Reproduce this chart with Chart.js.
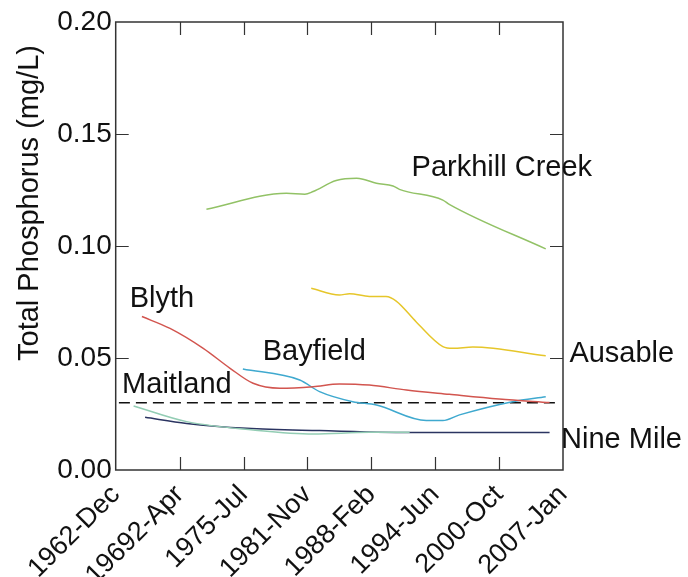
<!DOCTYPE html>
<html><head><meta charset="utf-8">
<script src="https://cdn.jsdelivr.net/npm/chart.js@4/dist/chart.umd.min.js"></script>
<style>html,body{margin:0;padding:0;background:#fff}</style>
</head><body>
<canvas id="c" width="688" height="577"></canvas>
<script>
const categories = ['1962-Dec','19692-Apr','1975-Jul','1981-Nov','1988-Feb','1994-Jun','2000-Oct','2007-Jan'];
const yTickValues = [0, 0.05, 0.10, 0.15, 0.20];
const yTitle = 'Total Phosphorus (mg/L)';
const threshold = 0.03;

const parkhillX = [1.42, 2.67, 2.96, 3.09, 3.45, 3.77, 3.87, 4.08, 4.34, 4.44, 5.12, 5.22, 6.73];
const parkhillY = [0.1164, 0.1235, 0.1231, 0.1243, 0.1292, 0.1302, 0.1298, 0.1280, 0.1268, 0.1253, 0.1205, 0.1186, 0.0987];
const ausableX = [3.06, 3.50, 3.66, 3.97, 4.23, 4.39, 4.70, 5.12, 5.28, 5.59, 6.73];
const ausableY = [0.0811, 0.0781, 0.0787, 0.0775, 0.0774, 0.0754, 0.0662, 0.0551, 0.0543, 0.0549, 0.0510];
const blythX = [0.41, 0.85, 1.37, 1.79, 2.15, 2.57, 3.09, 3.50, 3.97, 4.55, 5.22, 6.00, 6.79];
const blythY = [0.0685, 0.0632, 0.0543, 0.0454, 0.0387, 0.0365, 0.0372, 0.0384, 0.0379, 0.0357, 0.0338, 0.0317, 0.0301];
const bayfieldX = [1.99, 2.88, 3.19, 3.71, 4.08, 4.86, 5.12, 5.38, 6.21, 6.73];
const bayfieldY = [0.0451, 0.0402, 0.0350, 0.0305, 0.0290, 0.0221, 0.0221, 0.0246, 0.0305, 0.0327];
const maitlandX = [0.28, 1.11, 2.15, 3.09, 3.97, 4.6];
const maitlandY = [0.0286, 0.0216, 0.0179, 0.0161, 0.0168, 0.0168];
const nineMileX = [0.46, 1.11, 2.05, 3.19, 4.75, 6.79];
const nineMileY = [0.0235, 0.0208, 0.0186, 0.0176, 0.0167, 0.0167];

const seriesLabels = [
  {text:'Parkhill Creek', x:4.63, y:0.1348},
  {text:'Blyth', x:0.22, y:0.0763},
  {text:'Bayfield', x:2.30, y:0.0527},
  {text:'Maitland', x:0.10, y:0.0379},
  {text:'Ausable', x:7.10, y:0.0518},
  {text:'Nine Mile', x:6.97, y:0.0134}
];

const FONT = '"Liberation Sans", Arial, Helvetica, sans-serif';
function pts(xs, ys){ return xs.map((x,i)=>({x:x, y:ys[i]})); }
function line(data, color){
  return {data:data, borderColor:color, borderWidth:1.5, pointRadius:0, fill:false, cubicInterpolationMode:'monotone'};
}

const deco = {
  id:'deco',
  afterDraw(chart){
    const ctx = chart.ctx, a = chart.chartArea, x = chart.scales.x, y = chart.scales.y;
    ctx.save();
    ctx.strokeStyle = '#333'; ctx.lineWidth = 1.5;
    ctx.strokeRect(a.left, a.top, a.right-a.left, a.bottom-a.top);
    const L = 13;
    ctx.lineWidth = 1.2;
    ctx.beginPath();
    for (let i=1;i<categories.length-1;i++){
      const px = Math.round(x.getPixelForValue(i))+0.5;
      ctx.moveTo(px,a.bottom); ctx.lineTo(px,a.bottom-L);
      ctx.moveTo(px,a.top); ctx.lineTo(px,a.top+L);
    }
    for (const v of yTickValues.slice(1,-1)){
      const py = Math.round(y.getPixelForValue(v))+0.5;
      ctx.moveTo(a.left,py); ctx.lineTo(a.left+L,py);
      ctx.moveTo(a.right,py); ctx.lineTo(a.right-L,py);
    }
    ctx.stroke();
    ctx.fillStyle = '#111';
    ctx.font = '29px ' + FONT;
    ctx.textAlign = 'left'; ctx.textBaseline = 'middle';
    for (const l of seriesLabels){
      ctx.fillText(l.text, x.getPixelForValue(l.x), y.getPixelForValue(l.y));
    }
    ctx.translate(30, 203);
    ctx.rotate(-Math.PI/2);
    ctx.textAlign = 'center';
    ctx.font = '29px ' + FONT;
    ctx.fillText(yTitle, 0, 0);
    ctx.restore();
  }
};

new Chart(document.getElementById('c'), {
  type:'line',
  data:{datasets:[
    line(pts(parkhillX, parkhillY), '#92c266'),
    line(pts(ausableX, ausableY), '#e6c62a'),
    line(pts(blythX, blythY), '#d2554f'),
    line(pts(maitlandX, maitlandY), '#93cdb4'),
    line(pts(bayfieldX, bayfieldY), '#3fa9cf'),
    line(pts(nineMileX, nineMileY), '#2b3461'),
    {data:[{x:0.05,y:threshold},{x:6.95,y:threshold}], borderColor:'#111', borderWidth:1.5, borderDash:[11,6], pointRadius:0, fill:false}
  ]},
  options:{
    responsive:false, animation:false,
    layout:{padding:{left:0, top:22, right:125, bottom:0}},
    plugins:{legend:{display:false}, tooltip:{enabled:false}},
    scales:{
      x:{type:'linear', min:0, max:categories.length-1,
        afterBuildTicks(s){ s.ticks = categories.map((c,i)=>({value:i})); },
        afterFit(s){ s.height = 107; },
        grid:{display:false, drawTicks:false}, border:{display:false},
        ticks:{autoSkip:false, maxRotation:45, minRotation:45, padding:9, color:'#111',
          font:{family:FONT, size:27}, callback:(v)=>categories[v]}
      },
      y:{type:'linear', min:0, max:0.2,
        afterBuildTicks(s){ s.ticks = yTickValues.map(v=>({value:v})); },
        afterFit(s){ s.width = 115.7; },
        grid:{display:false, drawTicks:false}, border:{display:false},
        ticks:{padding:4, color:'#111', font:{family:FONT, size:28}, callback:(v)=>Number(v).toFixed(2)}
      }
    }
  },
  plugins:[deco]
});
</script>
</body></html>
